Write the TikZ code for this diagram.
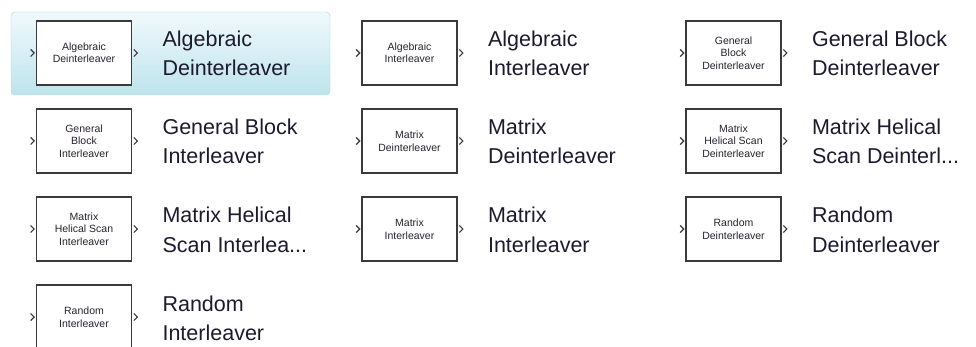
\documentclass[tikz,border=0pt]{standalone}
\usepackage{fontspec}
\setmainfont{Liberation Sans}
\usetikzlibrary{positioning,calc}
\definecolor{blkline}{RGB}{58,58,58}
\definecolor{blktext}{RGB}{40,34,46}
\definecolor{lbltext}{RGB}{28,26,46}
\definecolor{seltop}{RGB}{240,249,252}
\definecolor{selbot}{RGB}{190,228,236}
\definecolor{seledge}{RGB}{160,212,224}
\tikzset{
  blk/.style={draw=blkline, line width=1.7pt, fill=white,
              minimum width=95pt, minimum height=64pt, inner sep=0pt,
              align=center, text=blktext,
              font=\fontsize{10.5}{12.5}\selectfont},
  lbl/.style={align=left, inner sep=0pt, text=lbltext,
              font=\fontsize{21.5}{29}\selectfont},
  port/.style={draw=blkline, line width=1.2pt}
}
\begin{document}
\begin{tikzpicture}[x=1pt,y=-1pt]
  \useasboundingbox (0,0) rectangle (976,347);
  \def\libblk#1(#2,#3)#4#5{%
    \node[blk] (blk#1) at (#2,#3) {#4};
    \draw[port] ([xshift=-5pt,yshift=3.5pt]blk#1.west) -- ([xshift=-1.5pt]blk#1.west)
      -- ([xshift=-5pt,yshift=-3.5pt]blk#1.west);
    \draw[port] ([xshift=1.5pt,yshift=3.5pt]blk#1.east) -- ([xshift=5pt]blk#1.east)
      -- ([xshift=1.5pt,yshift=-3.5pt]blk#1.east);
    \node[lbl, right=30pt of blk#1.east, anchor=base west, yshift=-23pt] (lbl#1) {#5};
  }
  % selected entry
  \draw[rounded corners=4pt, draw=seledge, top color=seltop, bottom color=selbot]
    (11,12) rectangle (330,95);
  \libblk{adeint}(84,53){Algebraic\\Deinterleaver}{Algebraic\\Deinterleaver}
  \libblk{aint}(409.5,53){Algebraic\\Interleaver}{Algebraic\\Interleaver}
  \libblk{gbdeint}(733.5,53){General\\Block\\Deinterleaver}{General Block\\Deinterleaver}
  \libblk{gbint}(84,141){General\\Block\\Interleaver}{General Block\\Interleaver}
  \libblk{mdeint}(409.5,141){Matrix\\Deinterleaver}{Matrix\\Deinterleaver}
  \libblk{mhsdeint}(733.5,141){Matrix\\Helical Scan\\Deinterleaver}{Matrix Helical\\Scan Deinterl...}
  \libblk{mhsint}(84,229){Matrix\\Helical Scan\\Interleaver}{Matrix Helical\\Scan Interlea...}
  \libblk{mint}(409.5,229){Matrix\\Interleaver}{Matrix\\Interleaver}
  \libblk{rdeint}(733.5,229){Random\\Deinterleaver}{Random\\Deinterleaver}
  \libblk{rint}(84,317){Random\\Interleaver}{Random\\Interleaver}
\end{tikzpicture}
\end{document}
